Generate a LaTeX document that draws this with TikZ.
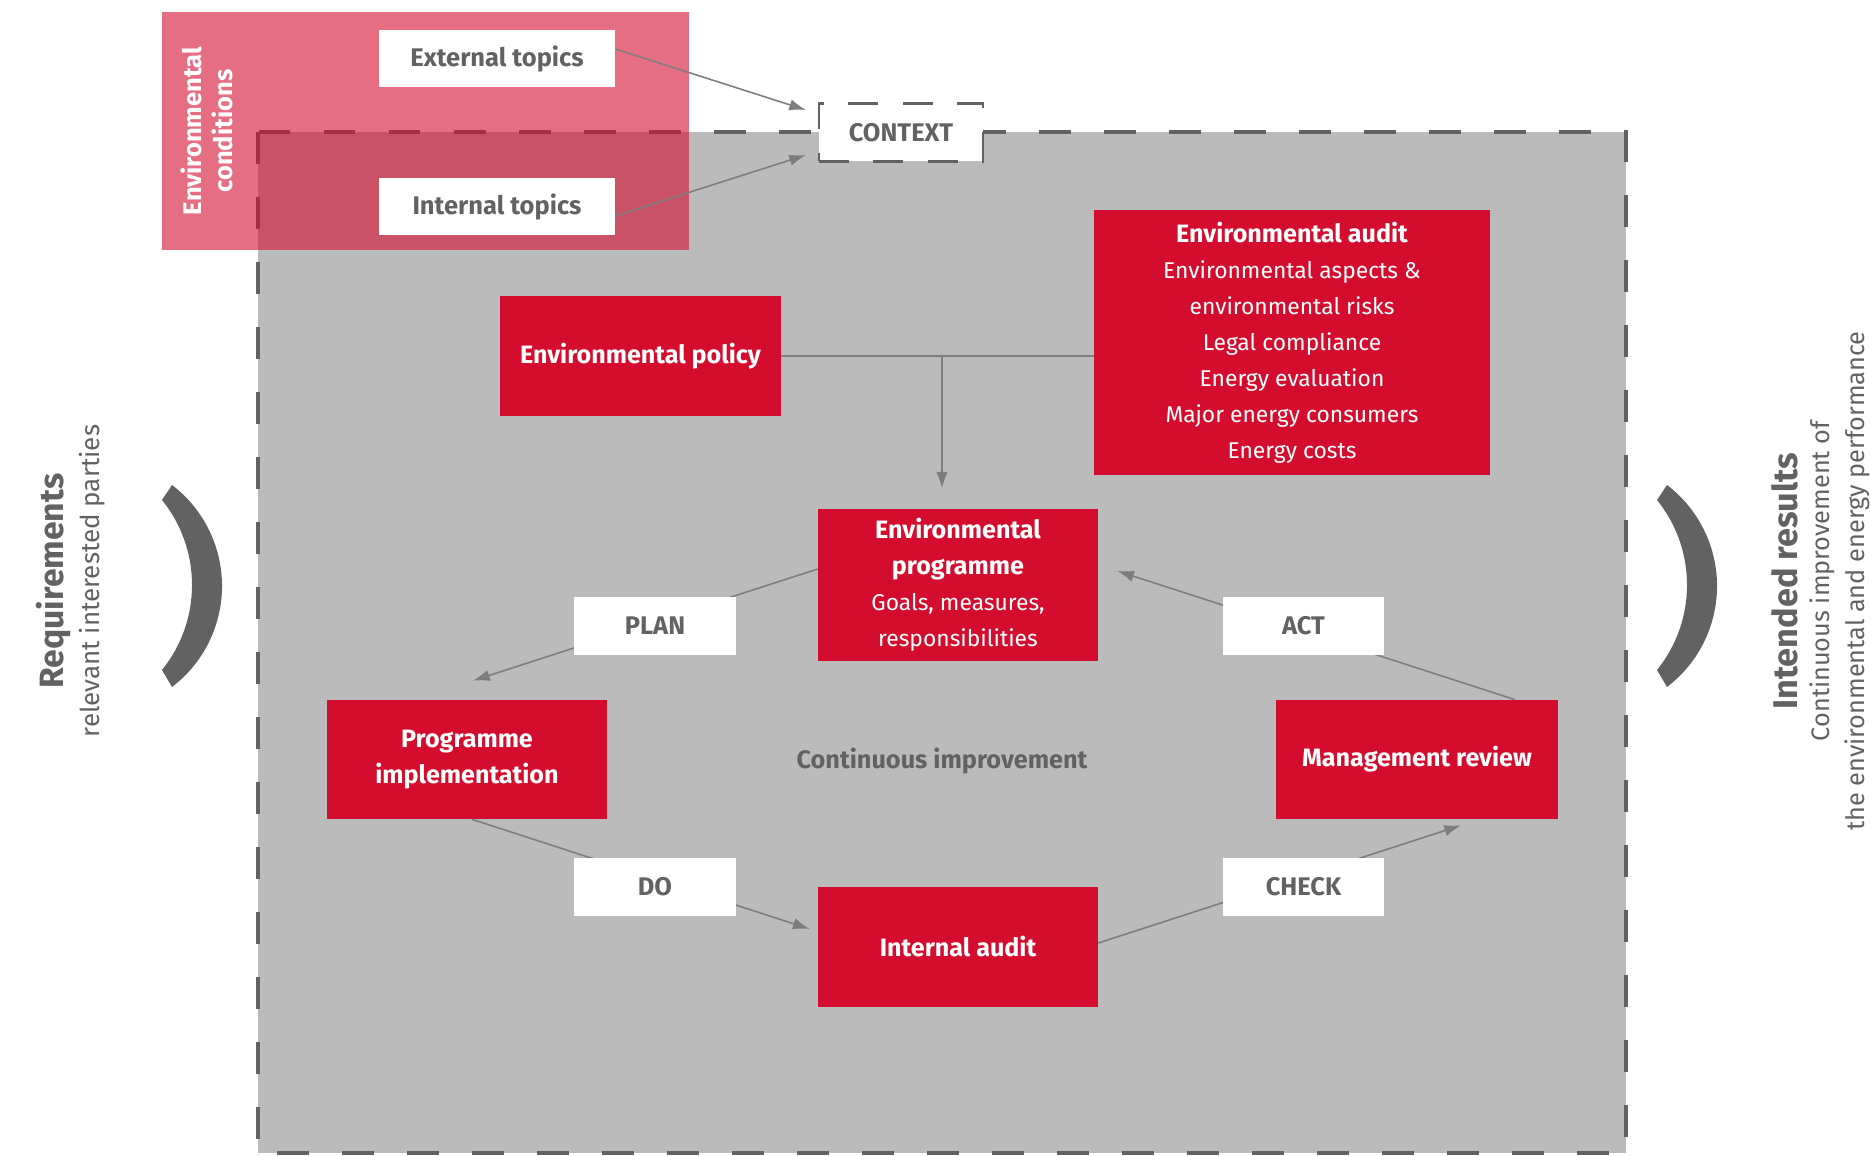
\documentclass[tikz,border=0pt]{standalone}
\usepackage{fontspec}
\setmainfont{Fira Sans}
\usetikzlibrary{arrows.meta,calc}
\definecolor{emsR}{RGB}{212,13,46}
\definecolor{emsG}{RGB}{187,187,187}
\definecolor{emsD}{RGB}{98,98,98}
\definecolor{emsL}{RGB}{125,125,125}
\newcommand\boxhead[1]{{\fontsize{14.3}{20.5}\selectfont\bfseries #1}}

\begin{document}
\begin{tikzpicture}[x=0.02cm,y=-0.02cm,>={Latex[length=9.5pt,width=6.5pt]},
  redbox/.style={fill=emsR,text=white,align=center,inner sep=0pt,font=\fontsize{13}{20.5}\selectfont},
  tagbox/.style={fill=white,text=emsD,minimum width=3.24cm,minimum height=1.16cm,inner sep=0pt,font=\fontsize{14.5}{16}\selectfont\bfseries},
  flow/.style={emsL,line width=0.9pt},
  bracket/.style={fill=emsD}]
\useasboundingbox (0,0) rectangle (1870,1156);
\fill[emsG] (258,132) rectangle (1626,1153);
\draw[emsD,line width=2pt,dash pattern=on 18pt off 19pt] (258,132) rectangle (1626,1153);
\fill[emsR,opacity=0.6] (162,12) rectangle (689,250);
\node[rotate=90,align=center,text=white,font=\fontsize{14.5}{18}\selectfont\bfseries] (cond) at (207,131) {Environmental\\conditions};
\node[tagbox,minimum width=4.72cm,minimum height=1.14cm] (ext) at (497,58.5) {External topics};
\node[tagbox,minimum width=4.72cm,minimum height=1.14cm] (int) at (497,206.5) {Internal topics};
\node[tagbox,minimum width=3.28cm,draw=emsD,line width=1.2pt,dash pattern=on 17pt off 14pt] (ctx) at (901,132.5) {CONTEXT};
\draw[flow,->] ([yshift=0.19cm]ext.east) -- ([shift={(-0.24cm,0.45cm)}]ctx.west);
\draw[flow,->] ([yshift=-0.19cm]int.east) -- ([shift={(-0.24cm,-0.45cm)}]ctx.west);

\node[redbox,minimum width=5.62cm,minimum height=2.4cm] (policy) at (640.5,356) {\boxhead{Environmental policy}};
\node[redbox,minimum width=7.92cm,minimum height=5.3cm] (audit) at (1292,342.5) {\boxhead{Environmental audit}\\Environmental aspects \&\\environmental risks\\Legal compliance\\Energy evaluation\\Major energy consumers\\Energy costs};
\node[redbox,minimum width=5.6cm,minimum height=3.04cm] (prog) at (958,585) {\boxhead{Environmental}\\\boxhead{programme}\\Goals, measures,\\responsibilities};
\node[redbox,minimum width=5.6cm,minimum height=2.38cm] (impl) at (467,759.5) {\boxhead{Programme}\\\boxhead{implementation}};
\node[redbox,minimum width=5.64cm,minimum height=2.38cm] (review) at (1417,759.5) {\boxhead{Management review}};
\node[redbox,minimum width=5.6cm,minimum height=2.4cm] (intaudit) at (958,947) {\boxhead{Internal audit}};
\node[text=emsD,font=\fontsize{14.4}{16}\selectfont\bfseries] (cycle) at (942,761) {Continuous improvement};

\coordinate (split) at (942,356);
\draw[flow] (policy.east) -- (policy.east -| audit.west);
\draw[flow,->] (split) -- ([yshift=0.4cm]split |- prog.north);
\draw[flow,->] ([yshift=0.32cm]prog.west) -- ([shift={(0.12cm,0.38cm)}]impl.north);
\draw[flow,->] ([xshift=0.1cm]impl.south) -- ([shift={(-0.16cm,0.36cm)}]intaudit.west);
\draw[flow,->] ([yshift=0.08cm]intaudit.east) -- ([shift={(0.88cm,-0.12cm)}]review.south);
\draw[flow,->] ([xshift=1.96cm]review.north) -- ([shift={(0.38cm,0.28cm)}]prog.east);
\node[tagbox] (plan) at (655,626) {PLAN};
\node[tagbox] (act) at (1303.5,626) {ACT};
\node[tagbox] (do) at (655,886.5) {DO};
\node[tagbox] (check) at (1303.5,886.5) {CHECK};

\foreach \dx in {0,1495}
  \fill[bracket,shift={(\dx,0)}] (172,485) arc[start angle=52.7,end angle=-52.7,radius=2.54cm]
    -- (162,670) arc[start angle=-38.9,end angle=38.9,radius=2.708cm] -- cycle;
\node[rotate=90,text=emsD,font=\fontsize{19.2}{21}\selectfont\bfseries] (req) at (54,581) {Requirements};
\node[rotate=90,text=emsD,font=\fontsize{14.8}{16}\selectfont] (reqsub) at (92,581) {relevant interested parties};
\node[rotate=90,text=emsD,font=\fontsize{19.5}{21}\selectfont\bfseries] (res) at (1785,581) {Intended results};
\node[rotate=90,align=center,text=emsD,font=\fontsize{14.4}{20}\selectfont] (ressub) at (1840,581) {Continuous improvement of\\the environmental and energy performance};
\end{tikzpicture}
\end{document}
